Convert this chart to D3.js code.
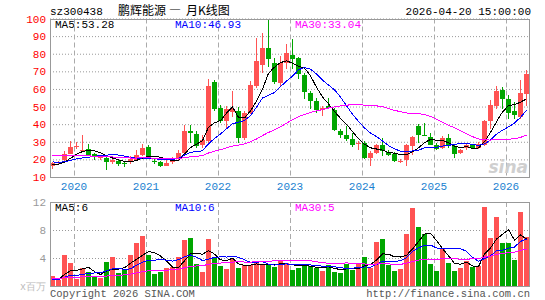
<!DOCTYPE html>
<html lang="zh">
<head>
<meta charset="utf-8">
<title>鹏辉能源 月K线图</title>
<script src="https://d3js.org/d3.v7.min.js"></script>
<style>
* { margin: 0; padding: 0; }
body { background: #fff; }
svg text { font-family: 'Liberation Mono', 'DejaVu Sans Mono', monospace; font-size: 10px; }
</style>
</head>
<body>
<script>
let w = 545, h = 300;
let left = 50, right = 530;
let priceTop = 18.5, priceBottom = 177;
let volTop = 202, volBottom = 286;
let upColor = "#ff5353", downColor = "#00a600";

// one candle per month, Sept 2019 .. Apr 2026
let months = d3.timeMonth.range(new Date(2019, 8, 1), new Date(2026, 4, 1));

let openP = [16.3,17.8,19.6,23.1,27.5,24.8,25.8,22.9,20.8,20.6,
  18.6,18.9,18.0,18.4,19.9,22.7,26.9,19.3,18.4,16.5,
  18.4,20.8,23.7,36.2,34.7,28.4,30.3,64.0,49.4,41.7,
  47.0,47.5,32.2,46.5,61.7,73.5,83.3,75.0,63.2,75.0,
  79.5,77.5,67.8,57.5,53.2,48.2,50.3,48.0,36.4,33.6,
  31.3,28.8,29.4,20.8,23.7,27.9,24.2,23.3,19.0,19.5,
  27.5,38.9,34.1,32.8,28.4,26.5,32.2,27.5,23.7,26.5,
  27.9,26.5,27.9,41.7,50.3,59.4,54.1,47.5,44.2,57.0];
let highP = [18.3,19.2,24.5,30.6,30.1,33.9,28.8,23.5,22.5,22.0,
  21.8,19.8,18.8,22.2,25.6,29.0,28.4,20.3,19.0,19.9,
  21.6,25.6,39.3,39.3,36.0,34.1,65.5,65.1,50.7,50.3,
  58.9,49.9,47.5,64.4,88.8,91.8,99.0,77.7,78.9,85.5,
  88.5,78.3,69.3,58.9,55.1,50.3,55.1,49.4,37.0,38.9,
  35.2,30.3,30.3,24.6,29.0,32.2,25.6,24.0,20.3,29.0,
  33.2,39.9,40.7,35.0,29.4,33.2,34.7,29.0,26.0,29.4,
  28.4,29.8,42.6,53.7,61.7,61.3,56.4,52.8,65.1,70.8];
let lowP = [14.8,17.5,19.0,22.8,25.8,24.0,21.8,19.5,19.6,14.0,
  17.2,16.3,15.8,17.6,19.3,21.8,20.3,17.6,15.7,16.1,
  17.2,19.9,22.8,29.4,26.5,26.5,29.4,47.5,40.4,37.3,
  44.0,29.4,30.9,45.6,60.5,68.8,72.6,62.6,61.7,71.6,
  71.6,65.5,54.1,48.4,46.5,44.6,48.4,36.0,32.2,30.3,
  27.1,25.6,20.3,16.5,22.8,21.8,21.8,18.4,18.2,16.5,
  22.5,29.4,33.0,27.9,25.2,25.8,26.5,20.8,23.3,25.2,
  25.8,25.8,27.5,37.3,48.4,48.4,43.0,42.8,43.0,50.3];
let closeP = [17.8,18.6,23.0,27.3,27.8,25.4,22.5,21.6,21.6,18.7,
  19.6,17.2,17.3,20.2,22.7,26.5,21.8,18.4,16.5,18.0,
  20.8,23.7,36.0,35.2,27.5,30.9,61.7,48.4,41.7,48.4,
  48.8,32.2,46.5,62.0,75.8,83.3,76.8,64.0,75.0,80.5,
  77.0,68.4,58.3,53.2,48.0,49.0,49.2,36.6,33.8,31.3,
  27.9,29.2,20.8,23.7,27.9,24.6,22.6,18.9,19.3,27.9,
  32.8,34.1,33.4,28.4,26.0,31.9,27.5,23.3,25.2,28.4,
  26.5,29.0,41.7,50.7,58.9,54.5,46.5,45.0,57.5,68.4];
// volume, millions of shares
let volume = [1.5,0.9,4.4,3.3,1.0,2.6,2.0,1.4,1.2,3.4,
  4.1,1.9,2.5,4.4,6.1,7.1,4.5,1.7,2.0,2.6,
  2.7,4.1,6.6,6.9,3.1,2.0,6.7,4.1,2.8,2.4,
  3.9,2.6,3.0,3.0,3.3,3.1,3.1,2.7,3.7,3.3,
  2.3,2.6,3.1,2.8,2.6,2.2,3.0,2.0,1.9,3.1,
  2.3,3.1,4.2,2.6,6.3,6.7,3.0,2.2,2.5,7.5,
  11.2,8.4,7.5,3.2,2.1,5.5,3.3,2.1,2.6,3.6,
  2.7,2.8,11.3,6.8,9.9,6.1,6.2,3.7,10.6,7.0];

// months before the window (not drawn, only feed the moving averages) - estimated
let closeBefore = [27,28,26,25,27,26,24,25,26,24,23,25,24,23,22,24,23,22,21,22,
  21,20,20,19,20,18,17,16.5,16.5];
let volumeBefore = [1.4,1.1,1.3,1.0,1.2,1.5,0.9,1.1,1.3,1.0,1.2,1.4,1.1,0.9,1.2,1.3,1.0,1.1,1.2,1.3,
  1.1,0.9,1.0,1.0,1.0,0.8,0.7,0.8,0.7];

let maPeriods = [5, 10, 30];
let maColors = ["#000000", "#0000ff", "#ff00ff"];
let priceMaLast = ["53.28", "46.93", "33.04"];
let volMaLast = ["6", "6", "5"];
let priceTicks = [10,20,30,40,50,60,70,80,90,100];
let volTicks = [4, 8, 12];

let svg = d3.select("body").append("svg")
  .attr("width", w)
  .attr("height", h);

let x = d3.scaleBand().domain(months).range([left, right]);
let yP = d3.scaleLinear().domain([10, 100]).range([priceBottom, priceTop]);
let yV = d3.scaleLinear().domain([0, 12]).range([volBottom, volTop]);

function movingAvg(series, before, n) {
  let all = before.concat(series);
  return series.map((v, i) => d3.mean(all.slice(before.length + i - n + 1, before.length + i + 1)));
}

// horizontal grid + labels
let pAxis = svg.append("g")
  .attr("transform", "translate(" + left + ",0)")
  .call(d3.axisLeft(yP).tickValues(priceTicks).tickSizeInner(-(right - left)).tickSizeOuter(0).tickPadding(4));
pAxis.select(".domain").remove();
pAxis.selectAll(".tick line").attr("stroke", "#999").attr("stroke-dasharray", "1,2");
pAxis.selectAll(".tick text").attr("fill", "#ff0000").style("font-size", "11px");

let vAxis = svg.append("g")
  .attr("transform", "translate(" + left + ",0)")
  .call(d3.axisLeft(yV).tickValues(volTicks).tickSizeInner(-(right - left)).tickSizeOuter(0).tickPadding(4));
vAxis.select(".domain").remove();
vAxis.selectAll(".tick line").attr("stroke", "#999").attr("stroke-dasharray", "1,2");
vAxis.selectAll(".tick text").attr("fill", "#999").style("font-size", "11px");

svg.append("text").text("x百万")
  .attr("x", 46).attr("y", 290)
  .attr("text-anchor", "end")
  .attr("fill", "#bbb")
  .style("font-size", "10px");

// year lines
let yearStarts = months.filter(d => d.getMonth() == 0);
let yearLines = svg.append("g").attr("stroke", "#aaa").attr("stroke-dasharray", "5,3");
yearStarts.forEach(function(d) {
  let xx = Math.round(x(d)) + 0.5;
  yearLines.append("line").attr("x1", xx).attr("x2", xx).attr("y1", priceTop).attr("y2", priceBottom);
  yearLines.append("line").attr("x1", xx).attr("x2", xx).attr("y1", volTop).attr("y2", volBottom);
});
svg.append("g").selectAll("text")
  .data(yearStarts).enter()
  .append("text")
  .text(d3.timeFormat("%Y"))
  .attr("x", d => x(d))
  .attr("y", 190)
  .attr("text-anchor", "middle")
  .attr("fill", "#1a7fd0")
  .style("font-size", "11px");

// sina watermark
svg.append("text").text("sina")
  .attr("x", 528).attr("y", 173)
  .attr("text-anchor", "end")
  .attr("fill", "#cfcfcf")
  .style("font-family", "'DejaVu Sans', sans-serif")
  .style("font-size", "17px")
  .style("font-weight", "bold")
  .style("font-style", "italic");

// candles
let candles = svg.append("g").attr("shape-rendering", "crispEdges");
months.forEach(function(m, i) {
  let col = closeP[i] >= openP[i] ? upColor : downColor;
  let cx = Math.round(x(m)) + 2.5;
  candles.append("line")
    .attr("x1", cx).attr("x2", cx)
    .attr("y1", yP(highP[i])).attr("y2", yP(lowP[i]))
    .attr("stroke", col);
  let top = yP(Math.max(openP[i], closeP[i]));
  let bot = yP(Math.min(openP[i], closeP[i]));
  candles.append("rect")
    .attr("x", Math.round(x(m)))
    .attr("y", top)
    .attr("width", 5)
    .attr("height", Math.max(1, bot - top))
    .attr("fill", col);
});

// volume bars
svg.append("g").attr("shape-rendering", "crispEdges")
  .selectAll("rect")
  .data(months).enter()
  .append("rect")
  .attr("x", d => Math.round(x(d)))
  .attr("y", (d, i) => yV(volume[i]))
  .attr("width", 5)
  .attr("height", (d, i) => volBottom - yV(volume[i]))
  .attr("fill", (d, i) => closeP[i] >= openP[i] ? upColor : downColor);

// moving averages
let line = d3.line().x(d => d[0]).y(d => d[1]);
maPeriods.forEach(function(n, k) {
  let pm = movingAvg(closeP, closeBefore, n);
  let vm = movingAvg(volume, volumeBefore, n);
  svg.append("path")
    .attr("d", line(months.map((m, i) => [Math.round(x(m)) + 2.5, yP(pm[i])])))
    .attr("fill", "none").attr("stroke", maColors[k]).attr("stroke-width", 1)
    .attr("shape-rendering", "crispEdges");
  svg.append("path")
    .attr("d", line(months.map((m, i) => [Math.round(x(m)) + 2.5, yV(vm[i])])))
    .attr("fill", "none").attr("stroke", maColors[k]).attr("stroke-width", 1)
    .attr("shape-rendering", "crispEdges");
  svg.append("text").text("MA" + n + ":" + priceMaLast[k])
    .attr("x", 55 + 120 * k).attr("y", 28)
    .attr("fill", maColors[k]).style("font-size", "11px");
  svg.append("text").text("MA" + n + ":" + volMaLast[k])
    .attr("x", 55 + 120 * k).attr("y", 211)
    .attr("fill", maColors[k]).style("font-size", "11px");
});

// frames
svg.append("rect").attr("x", left + 0.5).attr("y", Math.round(priceTop) + 0.5)
  .attr("width", right - left - 1).attr("height", priceBottom - Math.round(priceTop))
  .attr("fill", "none").attr("stroke", "#999");
svg.append("rect").attr("x", left + 0.5).attr("y", volTop + 0.5)
  .attr("width", right - left - 1).attr("height", volBottom - volTop)
  .attr("fill", "none").attr("stroke", "#999");

// header and footer texts
svg.append("text").text("sz300438").attr("x", 50).attr("y", 15).attr("fill", "#000").style("font-size", "11px");
let title = svg.append("text").attr("y", 15).attr("fill", "#000")
  .style("font-family", "'Noto Sans CJK SC', sans-serif").style("font-size", "12px");
title.append("tspan").attr("x", 118).text("鹏辉能源");
title.append("tspan").attr("x", 169).text("—");
title.append("tspan").attr("x", 186).text("月K线图");
svg.append("text").text("2026-04-20 15:00:00").attr("x", 531).attr("y", 15)
  .attr("text-anchor", "end").attr("fill", "#000").style("font-size", "11px");
svg.append("text").text("Copyright 2026 SINA.COM").attr("x", 50).attr("y", 297)
  .attr("fill", "#555").style("font-size", "10.5px");
svg.append("text").text("http://finance.sina.com.cn").attr("x", 530).attr("y", 297)
  .attr("text-anchor", "end").attr("fill", "#555").style("font-size", "10.5px");
</script>
</body>
</html>
